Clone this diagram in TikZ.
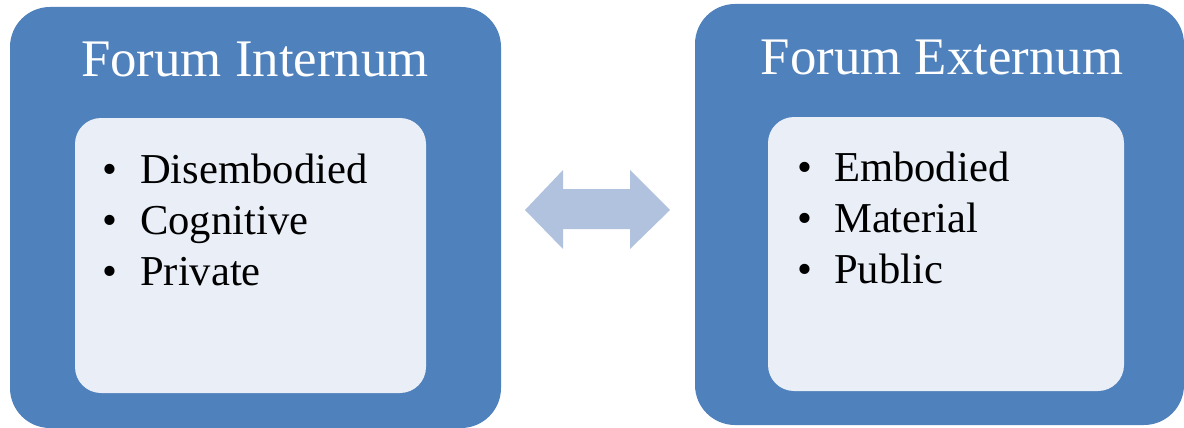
\documentclass[tikz,border=0pt]{standalone}
\usepackage{fontspec}
\setmainfont{Liberation Serif}
\definecolor{outerblue}{HTML}{4F81BD}
\definecolor{innerfill}{HTML}{E9EEF7}
\definecolor{arrowfill}{HTML}{B0C2DE}
\begin{document}
\begin{tikzpicture}[x=1pt,y=-1pt,
  outerbox/.style={fill=outerblue,draw=none,rounded corners=40pt},
  innerbox/.style={fill=innerfill,draw=none,rounded corners=26pt},
  titletext/.style={text=white,inner sep=0pt,font=\fontsize{52.8}{63}\selectfont,anchor=base},
  itemtext/.style={text=black,inner sep=0pt,font=\fontsize{42.6}{51}\selectfont,anchor=base west},
  bul/.style={text=black,inner sep=0pt,font=\fontsize{42.6}{51}\selectfont,anchor=base}]
\useasboundingbox (0,0) rectangle (1184,428);
% left
\path[outerbox] (10,7) rectangle (501,428);
\path[innerbox] (75,118) rectangle (426,393);
\node[titletext] (tl) at (255,77) {Forum Internum};
\node[bul] (bl1) at (110,183) {\textbullet};
\node[bul] (bl2) at (110,234) {\textbullet};
\node[bul] (bl3) at (110,285) {\textbullet};
\node[itemtext] (il1) at (140,183) {Disembodied};
\node[itemtext] (il2) at (140,234) {Cognitive};
\node[itemtext] (il3) at (140,285) {Private};
% right
\path[outerbox] (695,4) rectangle (1184,425);
\path[innerbox] (768,117) rectangle (1124,391);
\node[titletext] (tr) at (942,75) {Forum Externum};
\node[bul] (br1) at (805,181) {\textbullet};
\node[bul] (br2) at (805,232) {\textbullet};
\node[bul] (br3) at (805,283) {\textbullet};
\node[itemtext] (ir1) at (834,181) {Embodied};
\node[itemtext] (ir2) at (834,232) {Material};
\node[itemtext] (ir3) at (834,283) {Public};
% double arrow
\fill[arrowfill] (525,210) -- (563,170) -- (563,189) -- (630,189) -- (630,170) -- (670,210)
  -- (630,249) -- (630,229) -- (563,229) -- (563,249) -- cycle;
\end{tikzpicture}
\end{document}
